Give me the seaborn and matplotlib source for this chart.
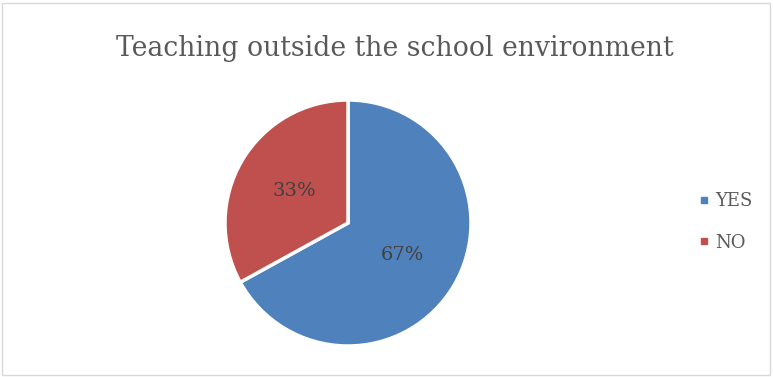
import matplotlib
matplotlib.use("Agg")
import matplotlib.pyplot as plt
import seaborn as sns
from matplotlib.patches import Rectangle
from matplotlib.lines import Line2D

labels = ["YES", "NO"]
values = [67, 33]
colors = ["#4F81BD", "#C0504D"]
title = "Teaching outside the school environment"

sns.set_style("white")
plt.rcParams['font.family'] = ['DejaVu Serif']

fig = plt.figure(figsize=(7.73, 3.77), dpi=100)
# pie axes: centre (348, 223) px, radius 123 px
cx, cy, r = 348, 223, 123
ax = fig.add_axes([(cx - r) / 773, (377 - cy - r) / 377, 2 * r / 773, 2 * r / 377])
wedges, texts, autotexts = ax.pie(
    values, colors=colors, startangle=90, counterclock=False,
    autopct=lambda p: f"{p:.0f}%", pctdistance=0.51,
    wedgeprops=dict(edgecolor="white", linewidth=2.5),
    textprops=dict(color="#404040", fontsize=14),
    radius=1,
)
ax.set_xlim(-1, 1)
ax.set_ylim(-1, 1)
ax.set_aspect("equal")
ax.axis("off")

fig.text(395 / 773, 1 - 48 / 377, title, ha="center", va="center",
         fontsize=19.2, color="#595959")

handles = [Line2D([], [], marker="s", linestyle="", markersize=5,
                  markerfacecolor=c, markeredgecolor=c) for c in colors]
fig.legend(handles, labels, loc="center left", bbox_to_anchor=(679 / 773, 1 - 222 / 377),
           frameon=False, fontsize=13, labelcolor="#595959", handletextpad=0.1,
           labelspacing=1.3, handlelength=1.0)

fig.add_artist(Rectangle((2 / 773, 2 / 377), 768 / 773, 372 / 377, transform=fig.transFigure,
                         fill=False, edgecolor="#D9D9D9", linewidth=1))

fig.savefig("out.png", dpi=100, facecolor="white")
